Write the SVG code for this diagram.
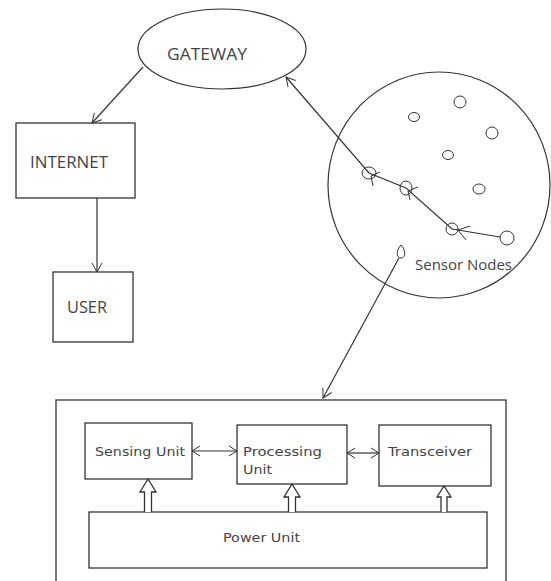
<svg xmlns="http://www.w3.org/2000/svg" width="551" height="581" viewBox="0 0 551 581">
<style>
.s{fill:none;stroke:#333;stroke-width:1.2}
.b{fill:#fff;stroke:#333;stroke-width:1.3}
.t{font-family:"Open Sans","DejaVu Sans",sans-serif;fill:#444}
.u{font-family:"DejaVu Sans","Open Sans",sans-serif;fill:#444;font-size:13px}
.h{fill:none;stroke:#333;stroke-width:1}
</style>
<defs>
<marker id="a" markerWidth="12" markerHeight="12" refX="10" refY="6" orient="auto" markerUnits="userSpaceOnUse">
<path d="M1,1 L10,6 L1,11" fill="none" stroke="#333" stroke-width="1"/>
</marker>
<marker id="as" markerWidth="12" markerHeight="12" refX="10" refY="6" orient="auto-start-reverse" markerUnits="userSpaceOnUse">
<path d="M2,1 L10,6 L2,11" fill="none" stroke="#333" stroke-width="1"/>
</marker>
</defs>
<rect width="551" height="581" fill="#fff"/>
<g id="gateway">
<ellipse cx="222" cy="49" rx="84" ry="40" class="s"/>
<text x="167" y="60" class="t" font-size="17" textLength="80" lengthAdjust="spacingAndGlyphs">GATEWAY</text>
</g>
<g id="internet">
<rect x="16" y="123" width="119" height="75" class="b"/>
<text x="30" y="168" class="t" font-size="17" textLength="78" lengthAdjust="spacingAndGlyphs">INTERNET</text>
</g>
<g id="user">
<rect x="53" y="272" width="80" height="70" class="b"/>
<text x="67" y="313" class="t" font-size="17" textLength="40" lengthAdjust="spacingAndGlyphs">USER</text>
</g>
<g id="sensor-field">
<ellipse cx="439" cy="185" rx="111" ry="113" class="s"/>
<g class="h">
<ellipse cx="460" cy="102" rx="6" ry="6"/>
<ellipse cx="414" cy="117" rx="5.5" ry="4.5"/>
<ellipse cx="492" cy="133" rx="6" ry="6"/>
<ellipse cx="448" cy="155" rx="5.5" ry="4.5"/>
<ellipse cx="479" cy="189" rx="6" ry="5"/>
<ellipse cx="369" cy="173" rx="7" ry="6"/>
<ellipse cx="406" cy="188" rx="6" ry="7"/>
<ellipse cx="452" cy="229" rx="6" ry="6"/>
<ellipse cx="507" cy="238" rx="7" ry="7"/>
<path d="M401,245 C396,250 396,258 401,258 C406,258 406,250 401,245 Z"/>
</g>
<text x="415" y="270" class="t" font-size="14.5" textLength="97" lengthAdjust="spacingAndGlyphs">Sensor Nodes</text>
</g>
<g id="node-internals">
<rect x="56" y="400" width="450" height="190" class="b"/>
<g id="sensing-unit">
<rect x="85" y="423" width="107" height="56" class="b"/>
<text x="95" y="456" class="u" textLength="90" lengthAdjust="spacingAndGlyphs">Sensing Unit</text>
</g>
<g id="processing-unit">
<rect x="237" y="425" width="110" height="59" class="b"/>
<text x="243" y="456" class="u" textLength="79" lengthAdjust="spacingAndGlyphs">Processing</text>
<text x="243" y="474" class="u" textLength="29" lengthAdjust="spacingAndGlyphs">Unit</text>
</g>
<g id="transceiver">
<rect x="379" y="425" width="112" height="61" class="b"/>
<text x="388" y="456" class="u" textLength="84" lengthAdjust="spacingAndGlyphs">Transceiver</text>
</g>
<g id="power-unit">
<rect x="89" y="512" width="398" height="56" class="b"/>
<text x="223" y="542" class="u" textLength="77" lengthAdjust="spacingAndGlyphs">Power Unit</text>
</g>
</g>
<g id="connectors">
<line x1="143" y1="67" x2="92" y2="123" class="s" marker-end="url(#a)"/>
<line x1="97" y1="198" x2="97" y2="272" class="s" marker-end="url(#a)"/>
<polyline points="500,237 452,229 406,188 369,173 286,77" class="s" marker-end="url(#a)"/>
<path d="M470,226 L458,230 L466,240" class="h"/>
<path d="M418,187 L408,191 L410,200" class="h"/>
<path d="M380,172 L371,176 L373,186" class="h"/>
<line x1="399" y1="258" x2="323" y2="398" class="s" marker-end="url(#a)"/>
<line x1="192" y1="451" x2="237" y2="451" class="s" marker-start="url(#as)" marker-end="url(#as)"/>
<line x1="347" y1="453" x2="379" y2="453" class="s" marker-start="url(#as)" marker-end="url(#as)"/>
<path d="M144.5,512 V492 H140 L148,479 L156,492 H151.5 V512" class="b"/>
<path d="M288.5,512 V497 H284 L292,484 L300,497 H295.5 V512" class="b"/>
<path d="M441,512 V497 H437 L444,486 L451,497 H447 V512" class="b"/>
</g>
</svg>
